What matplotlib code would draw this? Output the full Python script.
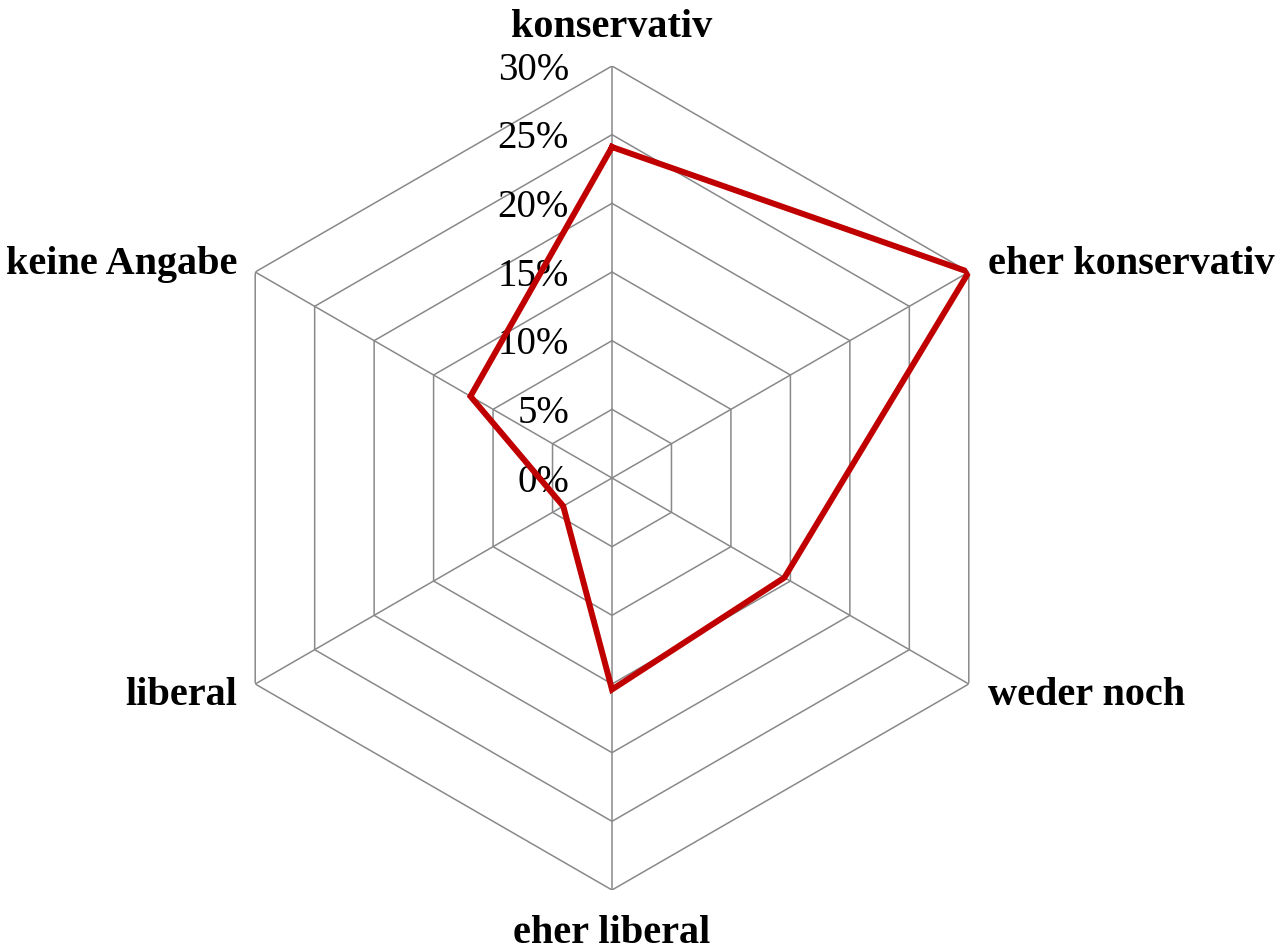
import numpy as np
import matplotlib
matplotlib.use("Agg")
import matplotlib.pyplot as plt

categories = ["konservativ", "eher konservativ", "weder noch",
              "eher liberal", "liberal", "keine Angabe"]
values = [0.241, 0.300, 0.145, 0.154, 0.041, 0.119]
rings = [0.05, 0.10, 0.15, 0.20, 0.25, 0.30]
tick_labels = ["0%", "5%", "10%", "15%", "20%", "25%", "30%"]
tick_values = [0.0, 0.05, 0.10, 0.15, 0.20, 0.25, 0.30]

W, H = 1287, 952
cx, cy, R = 612, 478, 412

fig = plt.figure(figsize=(W / 100, H / 100), dpi=100)
ax = fig.add_axes([(cx - R) / W, (H - cy - R) / H, 2 * R / W, 2 * R / H],
                  projection="polar")
ax.set_theta_zero_location("N")
ax.set_theta_direction(-1)
ax.set_ylim(0, 0.30)
ax.grid(False)
ax.set_xticks([])
ax.set_yticks([])
ax.spines["polar"].set_visible(False)
ax.patch.set_visible(False)

n = len(categories)
theta = np.arange(n) * 2 * np.pi / n
theta_closed = np.append(theta, theta[0])

grid_color = "#898989"
for r in rings:
    ax.plot(theta_closed, [r] * (n + 1), color=grid_color, lw=1.1, zorder=1)
for t in theta:
    ax.plot([t, t], [0, 0.30], color=grid_color, lw=1.1, zorder=1)

vals_closed = values + [values[0]]
ax.plot(theta_closed, vals_closed, color="#C00000", lw=4.3,
        solid_joinstyle="miter", zorder=3)

serif = ["Liberation Serif", "DejaVu Serif"]
for tv, tl in zip(tick_values, tick_labels):
    ax.annotate(tl, xy=(0, tv), xytext=(-43, -4), textcoords="offset pixels",
                ha="right", va="center", fontsize=28, family=serif,
                color="#000000", zorder=2)

label_offsets = [(0, 29, "center"), (19, -2, "left"), (19, -21, "left"),
                 (0, -53, "center"), (-18, -21, "right"), (-18, -2, "right")]
for t, cat, (dx, dy, ha) in zip(theta, categories, label_offsets):
    ax.annotate(cat, xy=(t, 0.30), xytext=(dx, dy), textcoords="offset pixels",
                ha=ha, va="baseline", fontsize=29, fontweight="bold",
                family=serif, color="#000000")

fig.savefig("out.png", dpi=100)
